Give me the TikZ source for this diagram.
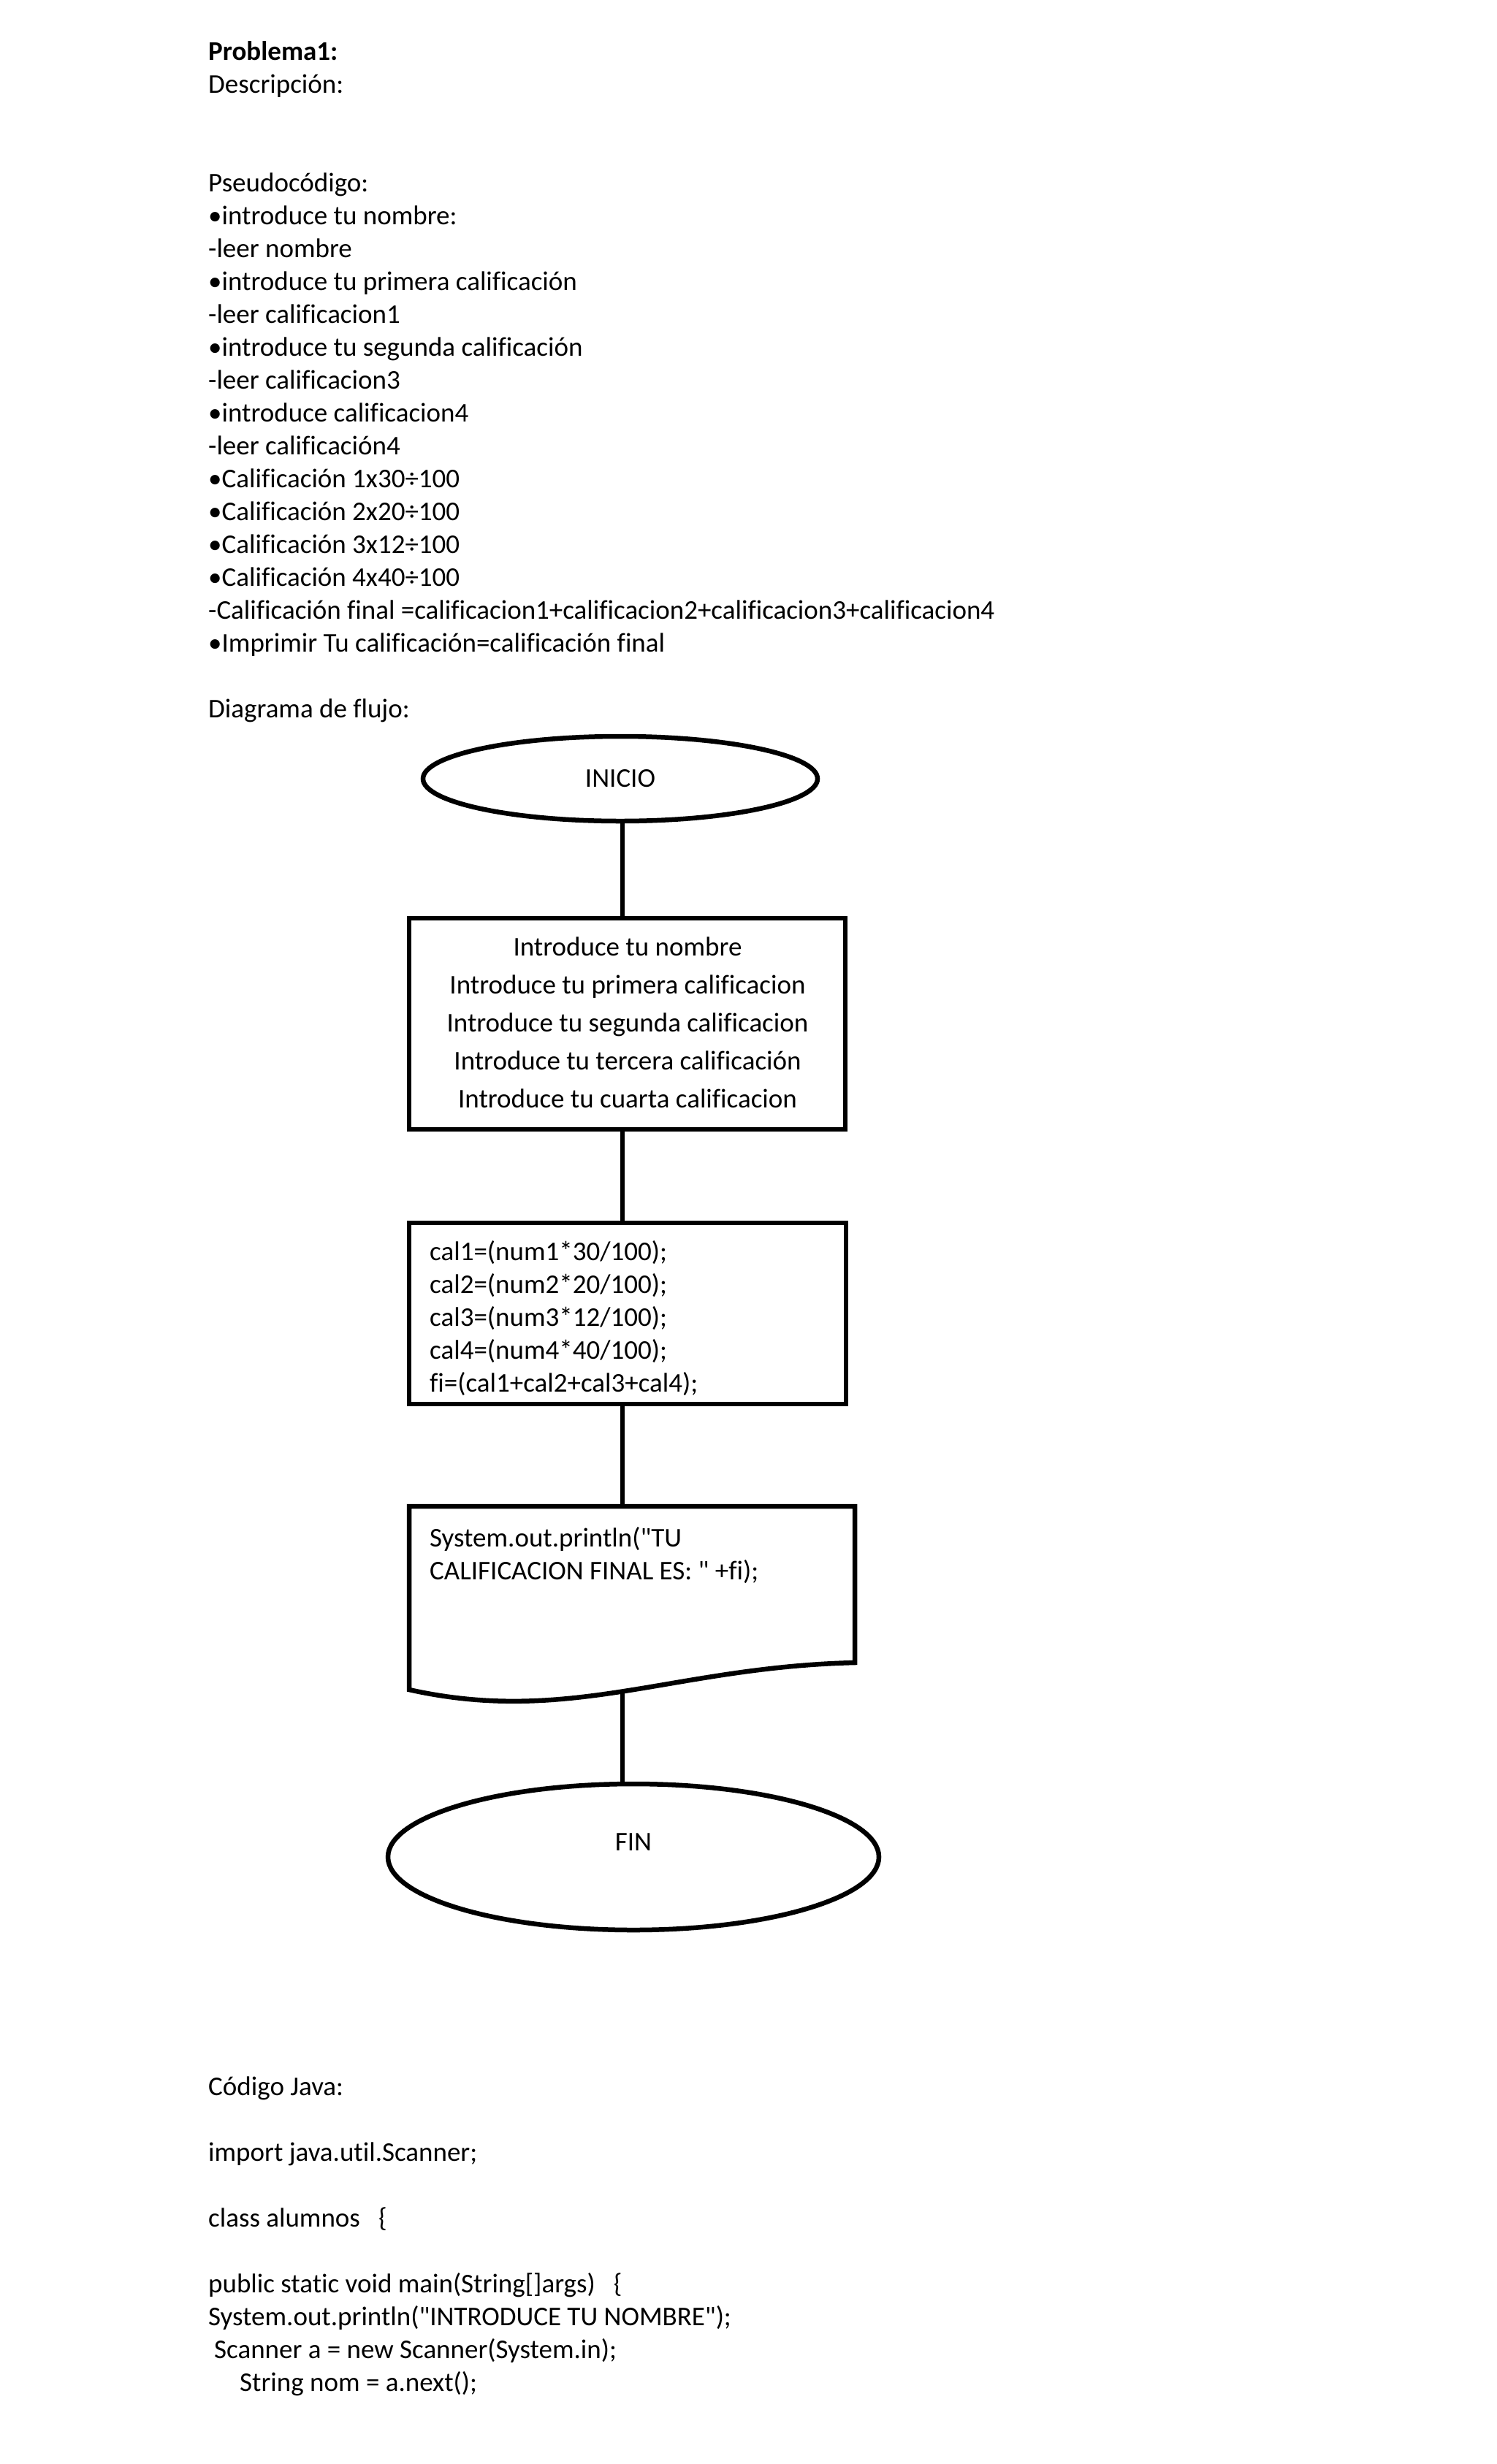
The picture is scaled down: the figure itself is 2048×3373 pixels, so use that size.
\documentclass[tikz,border=0pt]{standalone}
\usepackage{fontspec}
\setmainfont{Carlito}[Ligatures={TeXOff,CommonOff}]
\usetikzlibrary{shapes.geometric}
\begin{document}
\begin{tikzpicture}[x=1pt,y=-1pt,
  every node/.style={font=\fontsize{37}{45}\selectfont, inner sep=0pt},
  txt/.style={anchor=base west},
  ctxt/.style={anchor=base},
  outline/.style={draw=black, line width=6.5pt},
  conn/.style={draw=black, line width=6.5pt}]
\fill[white] (0,0) rectangle (2048,3373);
\useasboundingbox (0,0) rectangle (2048,3373);

% header and pseudocode
\node[txt] (p0) at (285,82) {\bfseries Problema1:};
\node[txt] (p1) at (285,127) {Descripción:};
\node[txt] (p2) at (285,262) {Pseudocódigo:};
\node[txt] (p3) at (285,307) {•introduce tu nombre:};
\node[txt] (p4) at (285,352) {-leer nombre};
\node[txt] (p5) at (285,397) {•introduce tu primera calificación};
\node[txt] (p6) at (285,442) {-leer calificacion1};
\node[txt] (p7) at (285,487) {•introduce tu segunda calificación};
\node[txt] (p8) at (285,532) {-leer calificacion3};
\node[txt] (p9) at (285,577) {•introduce calificacion4};
\node[txt] (p10) at (285,622) {-leer calificación4};
\node[txt] (p11) at (285,667) {•Calificación 1x30÷100};
\node[txt] (p12) at (285,712) {•Calificación 2x20÷100};
\node[txt] (p13) at (285,757) {•Calificación 3x12÷100};
\node[txt] (p14) at (285,802) {•Calificación 4x40÷100};
\node[txt] (p15) at (285,847) {-Calificación final =calificacion1+calificacion2+calificacion3+calificacion4};
\node[txt] (p16) at (285,892) {•Imprimir Tu calificación=calificación final};
\node[txt] (p17) at (285,982) {Diagrama de flujo:};

% flowchart
\coordinate (axis) at (852,0);
\node[outline, ellipse, minimum width=540, minimum height=116] (ini) at (849,1066) {INICIO};

\node[outline, rectangle, minimum width=597, minimum height=289] (box1) at (858.5,1401.5) {};
\node[ctxt] (b1a) at (859,1308) {Introduce tu nombre};
\node[ctxt] (b1b) at (859,1360) {Introduce tu primera calificacion};
\node[ctxt] (b1c) at (859,1412) {Introduce tu segunda calificacion};
\node[ctxt] (b1d) at (859,1464) {Introduce tu tercera calificación};
\node[ctxt] (b1e) at (859,1516) {Introduce tu cuarta calificacion};

\node[outline, rectangle, minimum width=598, minimum height=248] (box2) at (859,1798) {};
\node[txt] (b2a) at (588,1725) {cal1=(num1*30/100);};
\node[txt] (b2b) at (588,1770) {cal2=(num2*20/100);};
\node[txt] (b2c) at (588,1815) {cal3=(num3*12/100);};
\node[txt] (b2d) at (588,1860) {cal4=(num4*40/100);};
\node[txt] (b2e) at (588,1905) {fi=(cal1+cal2+cal3+cal4);};

\draw[outline] (1170,2062) -- (560,2062) -- (560,2313)
  .. controls (780,2362) and (920,2282) .. (1170,2276) -- cycle;
\coordinate (doctop) at (852,2062);
\coordinate (docb) at (852,2314);
\node[txt] (b3a) at (588,2117) {System.out.println("TU};
\node[txt] (b3b) at (588,2162) {CALIFICACION FINAL ES: " +fi);};

\node[outline, ellipse, minimum width=672, minimum height=200] (fin) at (867,2542) {};
\node (fintext) at (867,2522) {FIN};

\draw[conn] (ini.south -| axis) -- (box1.north -| axis);
\draw[conn] (box1.south -| axis) -- (box2.north -| axis);
\draw[conn] (box2.south -| axis) -- (doctop);
\draw[conn] (docb) -- (fin.north -| axis);

% java code
\node[txt] (j0) at (285,2868) {Código Java:};
\node[txt] (j1) at (285,2958) {import java.util.Scanner;};
\node[txt] (j2) at (285,3048) {class alumnos\ \ \ \{};
\node[txt] (j3) at (285,3138) {public static void main(String[]args)\ \ \ \{};
\node[txt] (j4) at (285,3183) {System.out.println("INTRODUCE TU NOMBRE");};
\node[txt] (j5) at (293,3228) {Scanner a = new Scanner(System.in);};
\node[txt] (j6) at (328,3273) {String nom = a.next();};
\end{tikzpicture}
\end{document}
